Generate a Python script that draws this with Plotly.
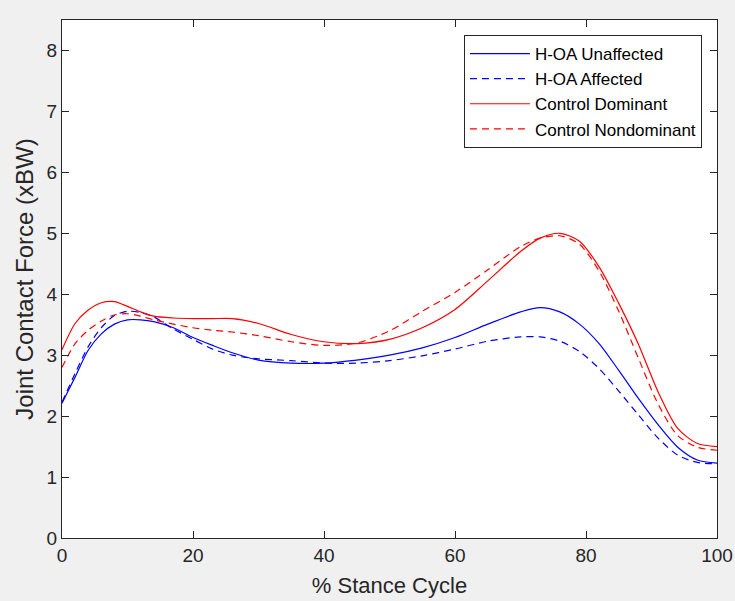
import plotly.graph_objects as go

stance_pct = [0, 2, 4, 6, 8, 10, 12, 14, 17, 20, 23, 26, 30, 35, 40, 45, 50, 55, 60, 65,
              70, 73, 76, 79, 82, 85, 88, 91, 94, 97, 100]

hoa_unaffected = [2.21, 2.64, 3.08, 3.35, 3.51, 3.58, 3.58, 3.55, 3.45, 3.29, 3.16, 3.04, 2.92,
                  2.87, 2.87, 2.92, 3.00, 3.12, 3.29, 3.51, 3.71, 3.78, 3.71, 3.51, 3.19, 2.75,
                  2.29, 1.86, 1.49, 1.28, 1.23]

hoa_affected = [2.23, 2.70, 3.14, 3.45, 3.65, 3.72, 3.70, 3.63, 3.43, 3.26, 3.10, 3.00, 2.94,
                2.91, 2.87, 2.87, 2.91, 2.99, 3.10, 3.23, 3.30, 3.30, 3.23, 3.06, 2.78, 2.41,
                2.02, 1.64, 1.36, 1.24, 1.22]

ctrl_dominant = [3.09, 3.52, 3.74, 3.86, 3.88, 3.80, 3.71, 3.64, 3.61, 3.60, 3.60, 3.60, 3.52,
                 3.34, 3.22, 3.19, 3.26, 3.45, 3.75, 4.22, 4.70, 4.92, 5.00, 4.87, 4.45, 3.85,
                 3.18, 2.40, 1.80, 1.55, 1.50]

ctrl_nondominant = [2.80, 3.19, 3.41, 3.56, 3.66, 3.68, 3.64, 3.58, 3.51, 3.45, 3.41, 3.38, 3.32,
                    3.22, 3.16, 3.20, 3.40, 3.72, 4.03, 4.40, 4.78, 4.92, 4.96, 4.82, 4.38, 3.72,
                    2.95, 2.20, 1.68, 1.49, 1.44]

series_names = ["H-OA Unaffected", "H-OA Affected", "Control Dominant", "Control Nondominant"]
x_ticks = [0, 20, 40, 60, 80, 100]
y_ticks = [0, 1, 2, 3, 4, 5, 6, 7, 8]

FONT = "Liberation Sans, Arial, sans-serif"
BLUE = "#0000ff"
RED = "#ff0000"
DASH = "7px,5px"

fig = go.Figure()
styles = [(hoa_unaffected, BLUE, "solid"), (hoa_affected, BLUE, DASH),
          (ctrl_dominant, RED, "solid"), (ctrl_nondominant, RED, DASH)]
for name, (vals, col, dash) in zip(series_names, styles):
    fig.add_trace(go.Scatter(x=stance_pct, y=vals, mode="lines", name=name,
                             line=dict(color=col, width=1.2, dash=dash, shape="spline",
                                       smoothing=0.8)))

axis_common = dict(showline=True, linecolor="#262626", linewidth=1, mirror="ticks",
                   ticks="inside", ticklen=7, tickwidth=1, tickcolor="#262626",
                   showgrid=False, zeroline=False, automargin=False,
                   tickfont=dict(family=FONT, size=19, color="#262626"))

fig.update_xaxes(range=[0, 100], tickvals=x_ticks,
                 title=dict(text="% Stance Cycle", font=dict(family=FONT, size=22, color="#262626"),
                            standoff=12),
                 **axis_common)
fig.update_yaxes(range=[0, 8.5], tickvals=y_ticks,
                 title=dict(text="Joint Contact Force (xBW)",
                            font=dict(family=FONT, size=24, color="#262626"), standoff=6),
                 **axis_common)

fig.update_layout(
    width=735, height=601,
    margin=dict(l=62, r=18, t=20, b=63),
    paper_bgcolor="#f0f0f0", plot_bgcolor="#ffffff",
    font=dict(family=FONT, color="#262626"),
    legend=dict(x=0.977, y=0.971, xanchor="right", yanchor="top",
                bgcolor="#ffffff", bordercolor="#262626", borderwidth=1,
                font=dict(family=FONT, size=17, color="#000000"),
                itemwidth=60, tracegroupgap=0),
)

fig.write_html("out.html")
